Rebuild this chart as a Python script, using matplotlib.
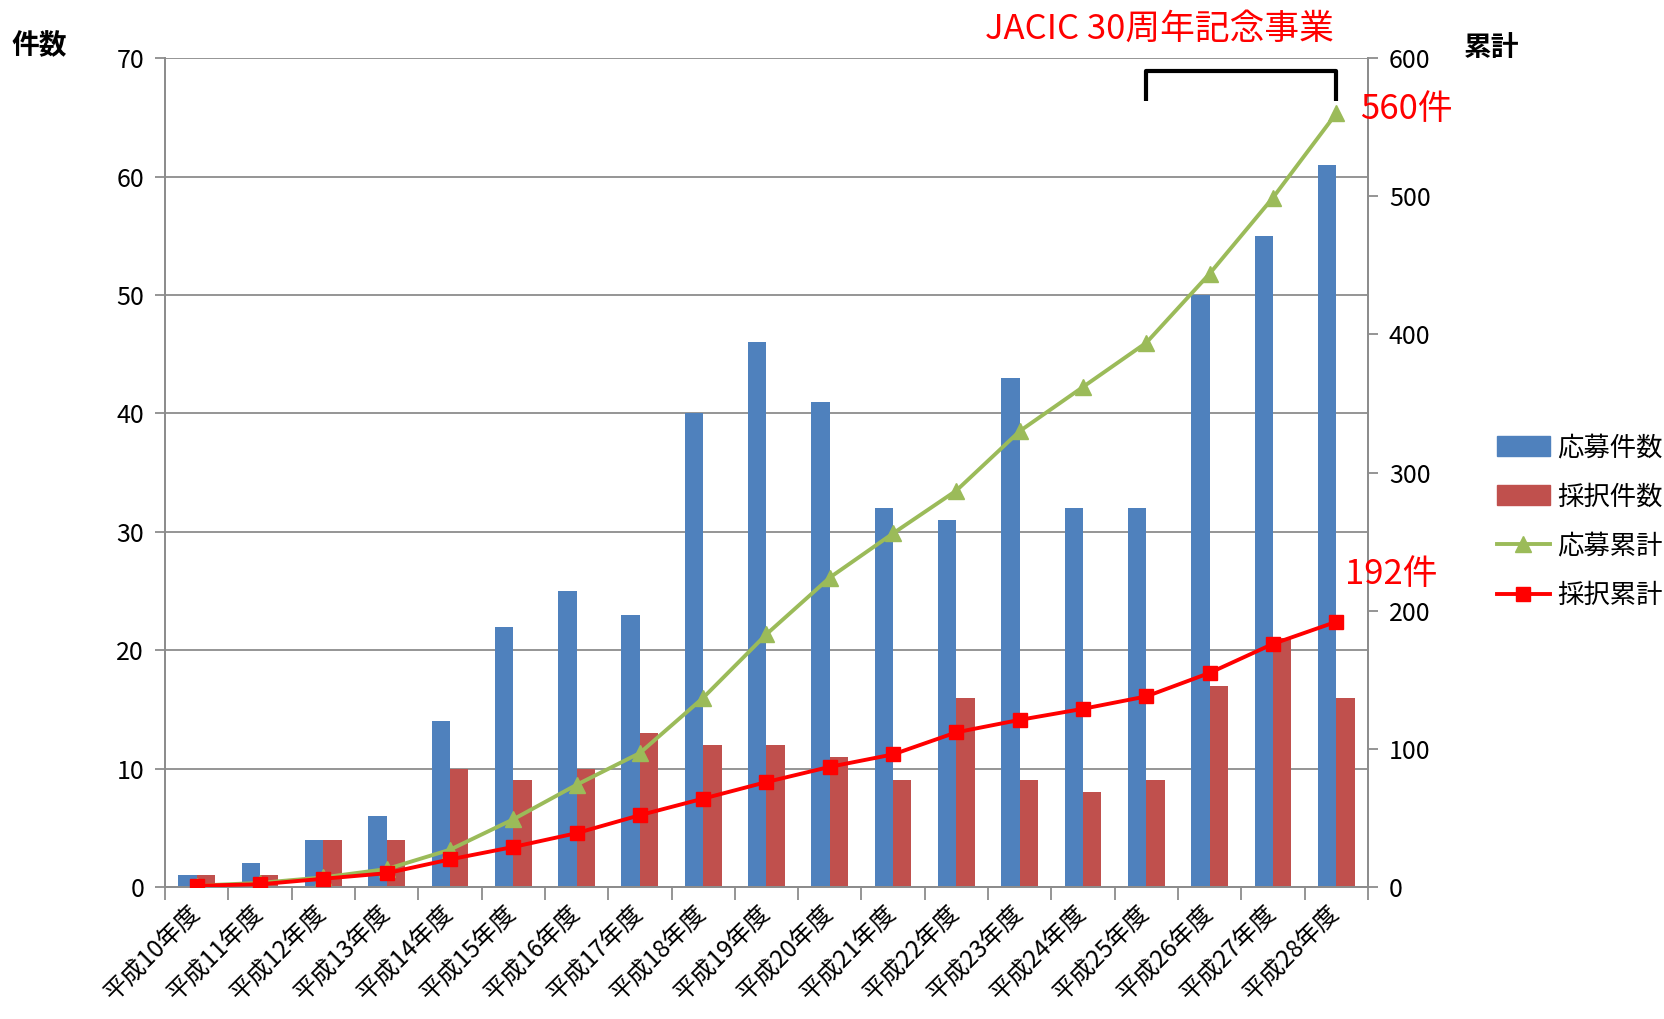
import matplotlib
matplotlib.use("Agg")
import matplotlib.pyplot as plt
import matplotlib.patches as mpatches
from matplotlib.lines import Line2D
import numpy as np

plt.rcParams['font.family'] = ['Noto Sans CJK JP', 'DejaVu Sans']

# fiscal years
years = ["平成10年度", "平成11年度", "平成12年度", "平成13年度", "平成14年度",
         "平成15年度", "平成16年度", "平成17年度", "平成18年度", "平成19年度",
         "平成20年度", "平成21年度", "平成22年度", "平成23年度", "平成24年度",
         "平成25年度", "平成26年度", "平成27年度", "平成28年度"]

# applications / adoptions per year
applied = [1, 2, 4, 6, 14, 22, 25, 23, 40, 46, 41, 32, 31, 43, 32, 32, 50, 55, 61]
adopted = [1, 1, 4, 4, 10, 9, 10, 13, 12, 12, 11, 9, 16, 9, 8, 9, 17, 21, 16]

# running totals
applied_total = [1, 3, 7, 13, 27, 49, 74, 97, 137, 183, 224, 256, 287, 330, 362, 394, 444, 499, 560]
adopted_total = [1, 2, 6, 10, 20, 29, 39, 52, 64, 76, 87, 96, 112, 121, 129, 138, 155, 176, 192]

BLUE = "#4F81BD"
BRICK = "#C0504D"
GREEN = "#9BBB59"
RED = "#FF0000"
GRAY = "#8C8C8C"

fig = plt.figure(figsize=(16.65, 10.19), dpi=100)
ax = fig.add_axes([0.0991, 0.1295, 0.7225, 0.8135])

x = np.arange(len(years))
w = 0.29
ax.bar(x - w / 2, applied, w, color=BLUE, zorder=2)
ax.bar(x + w / 2, adopted, w, color=BRICK, zorder=2)

ax.set_xlim(-0.5, len(years) - 0.5)
ax.set_ylim(0, 70)
ax.set_yticks(range(0, 71, 10))
ax.yaxis.grid(True, color=GRAY, linewidth=1.3, zorder=0)
ax.set_axisbelow(True)

# tick marks sit between the categories, labels at the centres
ax.set_xticks(np.arange(-0.5, len(years), 1.0))
ax.set_xticklabels([])
ax.set_xticks(x, minor=True)
ax.set_xticklabels(years, minor=True, rotation=45, ha="right", va="center",
                   rotation_mode="anchor", fontsize=17.5)
ax.tick_params(axis="x", which="major", length=9, width=1.3, color=GRAY, direction="out")
ax.tick_params(axis="x", which="minor", length=0, pad=16)
ax.tick_params(axis="y", length=7, width=1.3, color=GRAY, labelsize=18, pad=8)

for side in ["left", "bottom", "right"]:
    ax.spines[side].set_color(GRAY)
    ax.spines[side].set_linewidth(1.3)
ax.spines["top"].set_visible(False)

ax2 = ax.twinx()
ax2.plot(x, applied_total, color=GREEN, linewidth=2.8, marker="^", markersize=11, zorder=3)
ax2.plot(x, adopted_total, color=RED, linewidth=2.8, marker="s", markersize=10, zorder=4)
ax2.set_ylim(0, 600)
ax2.set_yticks(range(0, 601, 100))
ax2.tick_params(axis="y", length=7, width=1.3, color=GRAY, labelsize=18, pad=8)
for side in ["left", "bottom", "right"]:
    ax2.spines[side].set_color(GRAY)
    ax2.spines[side].set_linewidth(1.3)
ax2.spines["top"].set_visible(False)

# axis captions
fig.text(0.007, 0.955, "件数", fontsize=20, fontweight="bold", va="center", ha="left")
fig.text(0.879, 0.953, "累計", fontsize=20, fontweight="bold", va="center", ha="left")

# anniversary bracket over the last four years
y_lo, y_hi = 569, 591
ax2.plot([15, 15, 18, 18], [y_lo, y_hi, y_hi, y_lo], color="black",
         linewidth=3, solid_joinstyle="round", solid_capstyle="butt", clip_on=False)
ax2.text(15.2, 621, "JACIC 30周年記念事業", color=RED, fontsize=25,
         ha="center", va="center", clip_on=False)

ax2.annotate(f"{applied_total[-1]}件", (18, applied_total[-1]), xytext=(17, 3),
             textcoords="offset points", color=RED, fontsize=25, va="center",
             ha="left", annotation_clip=False)
ax2.annotate(f"{adopted_total[-1]}件", (18, adopted_total[-1]), xytext=(6, 34),
             textcoords="offset points", color=RED, fontsize=25, va="center",
             ha="left", annotation_clip=False)

handles = [
    mpatches.Patch(color=BLUE, label="応募件数"),
    mpatches.Patch(color=BRICK, label="採択件数"),
    Line2D([], [], color=GREEN, linewidth=2.8, marker="^", markersize=11, label="応募累計"),
    Line2D([], [], color=RED, linewidth=2.8, marker="s", markersize=10, label="採択累計"),
]
fig.legend(handles=handles, loc="center left", bbox_to_anchor=(0.899, 0.488),
           frameon=False, fontsize=19, handlelength=2.0, handleheight=0.8,
           labelspacing=0.85, handletextpad=0.3, borderaxespad=0, borderpad=0)

fig.savefig("out.png", dpi=100)
